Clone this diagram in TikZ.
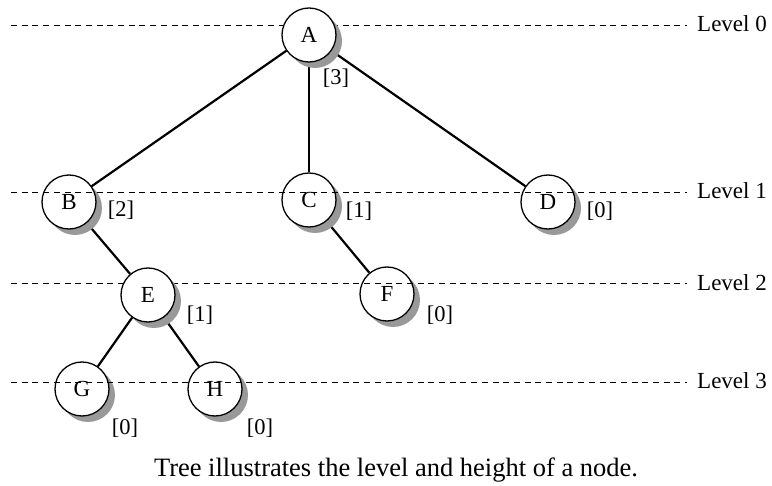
\documentclass[tikz,border=0pt]{standalone}
\usepackage{fontspec}
\setmainfont{Liberation Serif}
\usetikzlibrary{shadows}
\pgfdeclarelayer{background}
\pgfdeclarelayer{bottom}
\pgfsetlayers{bottom,background,main}
\begin{document}
\begin{tikzpicture}[x=1pt,y=-1pt,
  treenode/.style={circle,draw=black,line width=1.3pt,fill=white,minimum size=54pt,inner sep=0pt,
    font=\fontsize{23}{23}\selectfont,
    drop shadow={shadow xshift=6pt,shadow yshift=-6pt,fill=black!40,opacity=1}},
  hlabel/.style={font=\fontsize{22.5}{22.5}\selectfont,inner sep=0pt},
  levellabel/.style={font=\fontsize{23}{23}\selectfont,inner sep=0pt,anchor=west},
  levelline/.style={dashed,dash pattern=on 6pt off 4.7pt,line width=0.9pt},
  edge/.style={line width=2.2pt}]
\useasboundingbox (0,0) rectangle (772,486);
\begin{pgfonlayer}{bottom}
\fill[white] (0,0) rectangle (772,486);
\end{pgfonlayer}
% nodes crossed by level lines
\node[treenode] (B) at (69,202) {B};
\node[treenode] (C) at (309,200) {C};
\node[treenode] (D) at (548,202) {D};
\node[treenode] (F) at (387,294) {F};
\node[treenode] (G) at (82,389) {G};
\node[treenode] (H) at (215,389) {H};
% level lines and labels
\coordinate (l0s) at (11,25);  \coordinate (l0e) at (687,25);
\coordinate (l1s) at (11,192); \coordinate (l1e) at (687,192);
\coordinate (l2s) at (11,283); \coordinate (l2e) at (687,283);
\coordinate (l3s) at (11,382); \coordinate (l3e) at (687,382);
\draw[levelline] (l0s) -- (l0e);
\draw[levelline] (l1s) -- (l1e);
\draw[levelline] (l2s) -- (l2e);
\draw[levelline] (l3s) -- (l3e);
\node[levellabel] (L0) at (697,24) {Level 0};
\node[levellabel] (L1) at (697,191) {Level 1};
\node[levellabel] (L2) at (697,283) {Level 2};
\node[levellabel] (L3) at (697,381) {Level 3};
% nodes covering level lines
\node[treenode] (A) at (309,35) {A};
\node[treenode] (E) at (148,295) {E};
% edges
\begin{pgfonlayer}{background}
\draw[edge] (A) -- (B);
\draw[edge] (A) -- (C);
\draw[edge] (A) -- (D);
\draw[edge] (B) -- (E);
\draw[edge] (C) -- (F);
\draw[edge] (E) -- (G);
\draw[edge] (E) -- (H);
\end{pgfonlayer}
% heights
\node[hlabel] (hA) at (336,78) {[3]};
\node[hlabel] (hB) at (121,210) {[2]};
\node[hlabel] (hC) at (359,211) {[1]};
\node[hlabel] (hD) at (600,211) {[0]};
\node[hlabel] (hE) at (200,315) {[1]};
\node[hlabel] (hF) at (440,315) {[0]};
\node[hlabel] (hG) at (125,428) {[0]};
\node[hlabel] (hH) at (260,428) {[0]};
% caption
\node[font=\fontsize{26.5}{26.5}\selectfont,inner sep=0pt,anchor=base] (cap) at (396,477) {Tree illustrates the level and height of a node.};
\end{tikzpicture}
\end{document}
